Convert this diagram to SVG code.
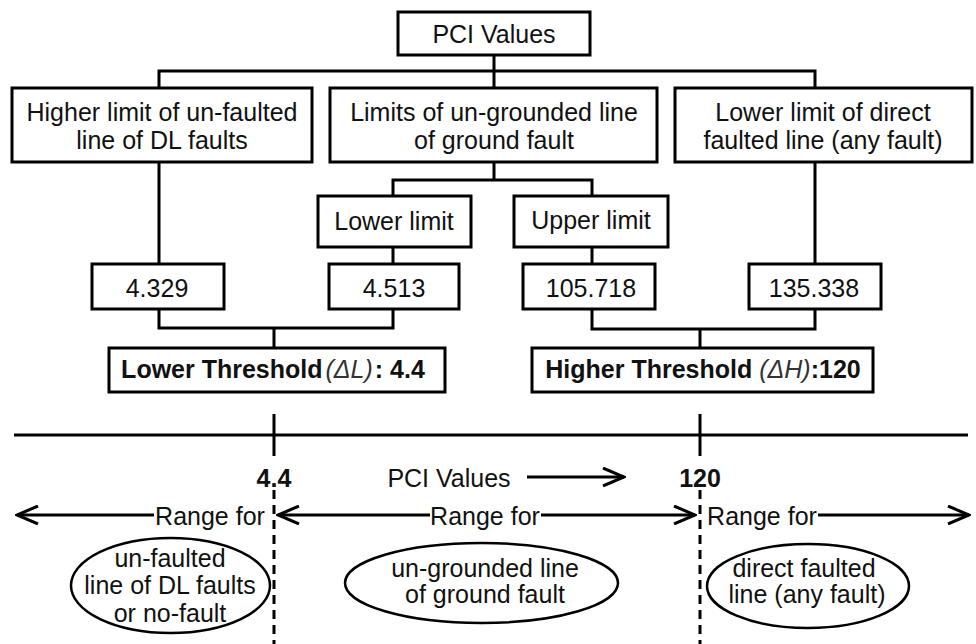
<svg xmlns="http://www.w3.org/2000/svg" width="976" height="644" viewBox="0 0 976 644">
<defs>
<style>
.box{fill:#fff;stroke:#000;stroke-width:3}
.ln{fill:none;stroke:#000;stroke-width:3}
.ell{fill:#fff;stroke:#000;stroke-width:2.5}
.dash{fill:none;stroke:#000;stroke-width:3;stroke-dasharray:9 6}
text{font-family:"Liberation Sans",Arial,sans-serif;font-size:25px;fill:#111;text-anchor:middle}
.b{font-weight:bold}
.i{font-style:italic;font-weight:normal;fill:#333}
</style>
<marker id="ah" viewBox="0 0 24 20" refX="22" refY="10" markerWidth="24" markerHeight="20" markerUnits="userSpaceOnUse" orient="auto">
<path d="M1,1 L22,10 L1,19" fill="none" stroke="#000" stroke-width="3"/>
</marker>
</defs>
<g id="connectors">
<path class="ln" d="M494,55 V71 M159,88 V71 H815 V88 M494,71 V88"/>
<path class="ln" d="M159,162 V264 M815,162 V264"/>
<path class="ln" d="M494,162 V180 M393,196 V180 H592 V196"/>
<path class="ln" d="M393,247 V264 M592,247 V264"/>
<path class="ln" d="M159,309 V328 H393 V309 M274,328 V348"/>
<path class="ln" d="M592,309 V329 H815 V309 M700,329 V348"/>
</g>
<g id="pci"><rect class="box" x="398" y="12" width="192" height="43"/><text x="494" y="43">PCI Values</text></g>
<g id="n1"><rect class="box" x="12" y="88" width="300" height="74"/><text x="162" y="121">Higher limit of un-faulted</text><text x="162" y="149">line of DL faults</text></g>
<g id="n2"><rect class="box" x="330" y="88" width="327" height="74"/><text x="494" y="121">Limits of un-grounded line</text><text x="494" y="149">of ground fault</text></g>
<g id="n3"><rect class="box" x="675" y="88" width="297" height="74"/><text x="823" y="121">Lower limit of direct</text><text x="823" y="149">faulted line (any fault)</text></g>
<g id="lower"><rect class="box" x="318" y="196" width="153" height="51"/><text x="394" y="230">Lower limit</text></g>
<g id="upper"><rect class="box" x="514" y="196" width="154" height="51"/><text x="591" y="229">Upper limit</text></g>
<g id="v1"><rect class="box" x="92" y="264" width="132" height="45"/><text x="157" y="297">4.329</text></g>
<g id="v2"><rect class="box" x="329" y="264" width="130" height="45"/><text x="394" y="297">4.513</text></g>
<g id="v3"><rect class="box" x="523" y="264" width="132" height="45"/><text x="591" y="297">105.718</text></g>
<g id="v4"><rect class="box" x="749" y="264" width="132" height="45"/><text x="814" y="297">135.338</text></g>
<g id="lt"><rect class="box" x="109" y="348" width="336" height="44"/><text x="273" y="378"><tspan class="b">Lower Threshold</tspan><tspan class="i" dx="3">(ΔL)</tspan><tspan class="b" dx="2">: 4.4</tspan></text></g>
<g id="ht"><rect class="box" x="532" y="348" width="341" height="44"/><text x="703" y="378"><tspan class="b">Higher Threshold </tspan><tspan class="i">(ΔH)</tspan><tspan class="b">:120</tspan></text></g>
<g id="axis">
<path class="ln" d="M14,435 H968 M274,414 V456 M700,414 V456"/>
<path class="dash" d="M274,490 V644 M700,490 V644"/>
<text class="b" x="274" y="487">4.4</text>
<text class="b" x="700" y="487">120</text>
<text x="449" y="487">PCI Values</text>
<path class="ln" d="M527,477 H624" marker-end="url(#ah)"/>
</g>
<g id="ranges">
<path class="ln" d="M154,515 H17" marker-end="url(#ah)"/>
<text x="210" y="525">Range for</text>
<path class="ln" d="M430,515 H278" marker-end="url(#ah)"/>
<text x="485" y="525">Range for</text>
<path class="ln" d="M541,515 H695" marker-end="url(#ah)"/>
<text x="762" y="525">Range for</text>
<path class="ln" d="M818,515 H969" marker-end="url(#ah)"/>
</g>
<g id="e1"><ellipse class="ell" cx="170.5" cy="585.5" rx="99.5" ry="47.5"/><text x="170" y="567">un-faulted</text><text x="170" y="594">line of DL faults</text><text x="170" y="622">or no-fault</text></g>
<g id="e2"><ellipse class="ell" cx="481.5" cy="583" rx="136.5" ry="40"/><text x="485" y="577">un-grounded line</text><text x="485" y="603">of ground fault</text></g>
<g id="e3"><ellipse class="ell" cx="808" cy="586" rx="101" ry="42"/><text x="804" y="577">direct faulted</text><text x="807" y="603">line (any fault)</text></g>
</svg>
